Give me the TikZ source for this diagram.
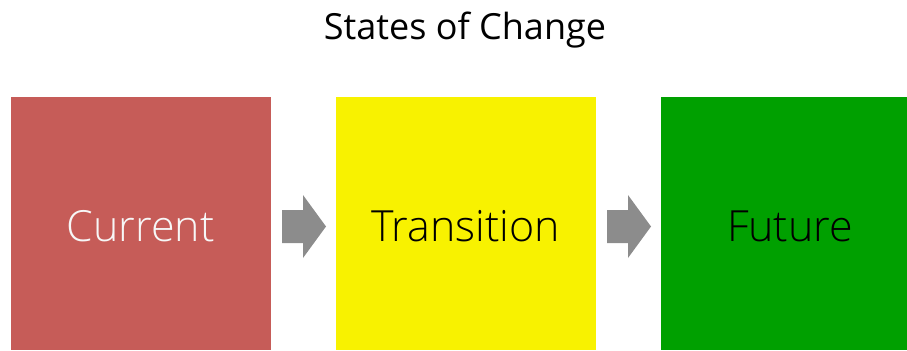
\documentclass[tikz,border=0pt]{standalone}
\usepackage{fontspec}
\setmainfont{Open Sans}
\newfontfamily\lightfont{Open Sans Light}
\begin{document}
\begin{tikzpicture}[x=0.75pt,y=-0.75pt,
  stage/.style={inner sep=0pt, font=\lightfont\fontsize{32.2}{36}\selectfont},
  blockarrow/.style={fill=arrowgray, draw=none}]
\definecolor{curred}{RGB}{198,92,88}
\definecolor{transyellow}{RGB}{248,242,0}
\definecolor{futgreen}{RGB}{0,160,0}
\definecolor{arrowgray}{RGB}{140,140,140}
\useasboundingbox (0,0) rectangle (907,350);
% title
\node (title) at (465,30) {\fontsize{27}{30}\selectfont States of Change};
% three stage boxes
\fill[curred] (10.5,96.5) rectangle (271,350);
\fill[transyellow] (336,96.5) rectangle (596,350);
\fill[futgreen] (661,96.5) rectangle (907,350);
\node[stage, text=white!97!black] (current) at (140.5,226) {Current};
\node[stage, text=black] (transition) at (465.5,226) {Transition};
\node[stage, text=black] (future) at (790,226) {Future};
% block arrows between the boxes
\fill[blockarrow] (282,210) -- (303,210) -- (303,195) -- (326,226.5) -- (303,258) -- (303,243) -- (282,243) -- cycle;
\fill[blockarrow] (607,210) -- (628,210) -- (628,195) -- (651,226.5) -- (628,258) -- (628,243) -- (607,243) -- cycle;
\end{tikzpicture}
\end{document}
